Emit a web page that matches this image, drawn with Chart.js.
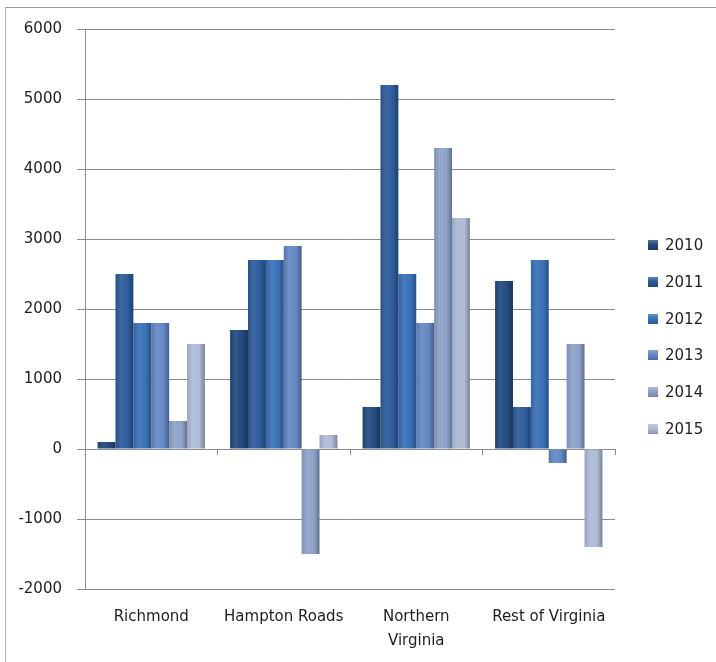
<!DOCTYPE html>
<html>
<head>
<meta charset="utf-8">
<title>Virginia regions 2010-2015</title>
<script src="https://cdn.jsdelivr.net/npm/chart.js@4.4.1/dist/chart.umd.min.js"></script>
<style>
  html, body { margin: 0; padding: 0; background: #fff; }
  body { width: 716px; height: 662px; position: relative; overflow: hidden; }
  #frame {
    position: absolute; left: 5px; top: 7px; right: -2px; bottom: -2px;
    border-top: 1px solid #9a9a9a; border-left: 1px solid #a9b3c4;
  }
  #chart { position: absolute; left: 0; top: 0; }
  #legend {
    position: absolute; left: 648px; top: 227px; margin: 0; padding: 0; list-style: none;
    font-family: "DejaVu Sans", sans-serif; font-size: 15px; color: #1e1e1e;
  }
  #legend li { display: flex; align-items: center; height: 36.7px; }
  #legend .box { width: 10px; height: 10px; margin-right: 7px; }
</style>
</head>
<body>
<div id="frame"></div>
<canvas id="chart" width="716" height="662"></canvas>
<ul id="legend"></ul>
<script>
const regions = ['Richmond', 'Hampton Roads', ['Northern', 'Virginia'], 'Rest of Virginia'];
const years = ['2010', '2011', '2012', '2013', '2014', '2015'];

// one array per year, values per region
const y2010 = [100, 1700, 600, 2400];
const y2011 = [2500, 2700, 5200, 600];
const y2012 = [1800, 2700, 2500, 2700];
const y2013 = [1800, 2900, 1800, -200];
const y2014 = [400, -1500, 4300, 1500];
const y2015 = [1500, 200, 3300, -1400];

const yTicks = { min: -2000, max: 6000, step: 1000 };

const seriesColors = ['#224a7e', '#2c5c9b', '#3a71b8', '#6488c4', '#8ea2c9', '#aebbd6'];

function shade(hex, amt) {
  const n = parseInt(hex.slice(1), 16);
  const mix = c => Math.round(amt < 0 ? c * (1 + amt) : c + (255 - c) * amt);
  const r = mix(n >> 16), g = mix((n >> 8) & 255), b = mix(n & 255);
  return `rgb(${r},${g},${b})`;
}

// horizontal shading so the bars look a bit like the bevelled originals
function barFill(ctx) {
  const base = seriesColors[ctx.datasetIndex];
  const el = ctx.element;
  if (!el || el.x === undefined || !el.width) return base;
  const x0 = el.x - el.width / 2;
  const g = ctx.chart.ctx.createLinearGradient(x0, 0, x0 + el.width, 0);
  g.addColorStop(0, shade(base, -0.12));
  g.addColorStop(0.3, shade(base, 0.08));
  g.addColorStop(0.7, base);
  g.addColorStop(1, shade(base, -0.3));
  return g;
}

const series = [y2010, y2011, y2012, y2013, y2014, y2015];

const chart = new Chart(document.getElementById('chart'), {
  type: 'bar',
  data: {
    labels: regions,
    datasets: series.map((values, i) => ({
      label: years[i],
      data: values,
      backgroundColor: barFill,
      borderWidth: 0,
      barPercentage: 1,
      categoryPercentage: 0.81,
    })),
  },
  options: {
    responsive: false,
    animation: false,
    layout: { padding: { left: 0, right: 101, top: 29, bottom: 0 } },
    plugins: {
      legend: { display: false },
      tooltip: { enabled: false },
    },
    scales: {
      x: {
        grid: { display: false },
        border: { display: false },
        ticks: {
          padding: 8,
          color: '#1e1e1e',
          maxRotation: 0,
          autoSkip: false,
          font: { family: 'DejaVu Sans', size: 15, lineHeight: 1.6 },
        },
        afterFit: scale => { scale.height = 73; },
      },
      // second category axis only for the small boundary ticks on the zero line
      xZero: {
        type: 'category',
        position: { y: 0 },
        offset: true,
        ticks: { display: false },
        border: { display: false },
        grid: {
          offset: true,
          drawOnChartArea: false,
          drawTicks: true,
          tickLength: 6,
          color: '#8c8c8c',
        },
      },
      y: {
        min: yTicks.min,
        max: yTicks.max,
        ticks: {
          stepSize: yTicks.step,
          padding: 15,
          color: '#1e1e1e',
          font: { family: 'DejaVu Sans', size: 15 },
          callback: v => String(v),
        },
        grid: { color: '#8c8c8c', tickLength: 8 },
        border: { color: '#8c8c8c' },
        afterFit: scale => { scale.width = 85; },
      },
    },
  },
});
// second pass so the gradients know where each bar sits
chart.update();

const legend = document.getElementById('legend');
years.forEach((yr, i) => {
  const li = document.createElement('li');
  const box = document.createElement('span');
  box.className = 'box';
  const c = seriesColors[i];
  box.style.background = `linear-gradient(180deg, ${shade(c, 0.25)} 0%, ${c} 45%, ${shade(c, -0.2)} 100%)`;
  li.appendChild(box);
  li.appendChild(document.createTextNode(yr));
  legend.appendChild(li);
});
</script>
</body>
</html>
